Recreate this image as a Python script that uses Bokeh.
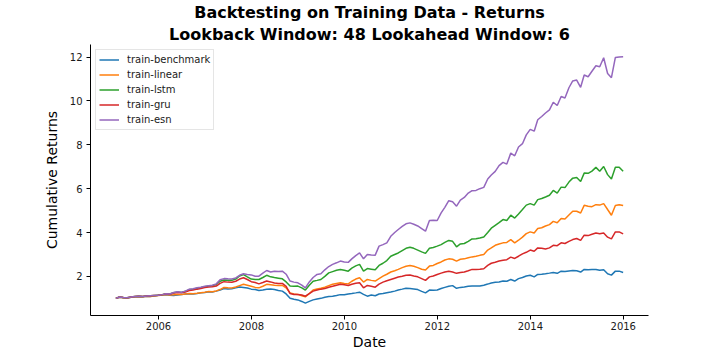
import pandas as pd
from bokeh.plotting import figure
from bokeh.models import (Range1d, FixedTicker, DatetimeTickFormatter, Legend,
                          LegendItem, Title)
from bokeh.embed import file_html
from bokeh.resources import INLINE

title_lines = ["Backtesting on Training Data - Returns",
               "Lookback Window: 48 Lookahead Window: 6"]
x_label = "Date"
y_label = "Cumulative Returns"
series_names = ["train-benchmark", "train-linear", "train-lstm", "train-gru", "train-esn"]
series_colors = ["#1f77b4", "#ff7f0e", "#2ca02c", "#d62728", "#9467bd"]
first_month_end = "2005-01-31"
x_tick_years = [2006, 2008, 2010, 2012, 2014, 2016]
y_ticks = [2, 4, 6, 8, 10, 12]

# monthly values, one row per year 2005..2015
benchmark = [
    1.00, 1.05, 1.03, 1.02, 1.05, 1.07, 1.08, 1.07, 1.10, 1.09, 1.12, 1.14,
    1.15, 1.16, 1.14, 1.13, 1.15, 1.17, 1.20, 1.21, 1.20, 1.22, 1.25, 1.27,
    1.30, 1.29, 1.33, 1.38, 1.45, 1.43, 1.44, 1.48, 1.52, 1.50, 1.47, 1.42,
    1.40, 1.36, 1.38, 1.41, 1.43, 1.40, 1.36, 1.33, 1.20, 1.00, 0.96, 0.93,
    0.86, 0.78, 0.86, 0.93, 0.97, 1.00, 1.05, 1.08, 1.10, 1.13, 1.17, 1.16,
    1.20, 1.22, 1.25, 1.28, 1.18, 1.10, 1.15, 1.12, 1.20, 1.22, 1.26, 1.29,
    1.33, 1.38, 1.42, 1.46, 1.45, 1.43, 1.40, 1.32, 1.25, 1.38, 1.37, 1.38,
    1.45, 1.50, 1.55, 1.58, 1.46, 1.50, 1.52, 1.55, 1.56, 1.56, 1.56, 1.60,
    1.65, 1.70, 1.73, 1.75, 1.79, 1.78, 1.86, 1.79, 1.90, 1.95, 2.02, 2.05,
    1.98, 2.09, 2.10, 2.12, 2.15, 2.18, 2.14, 2.24, 2.22, 2.25, 2.27, 2.26,
    2.20, 2.32, 2.30, 2.31, 2.32, 2.28, 2.30, 2.12, 2.06, 2.24, 2.24, 2.18,
]
linear = [
    1.00, 1.05, 1.03, 1.02, 1.05, 1.07, 1.08, 1.07, 1.10, 1.09, 1.11, 1.13,
    1.15, 1.17, 1.15, 1.16, 1.18, 1.17, 1.20, 1.22, 1.21, 1.23, 1.26, 1.28,
    1.31, 1.30, 1.34, 1.40, 1.50, 1.48, 1.47, 1.52, 1.58, 1.64, 1.60, 1.55,
    1.50, 1.48, 1.55, 1.64, 1.62, 1.60, 1.59, 1.59, 1.48, 1.25, 1.20, 1.18,
    1.12, 1.07, 1.22, 1.38, 1.43, 1.46, 1.51, 1.58, 1.64, 1.68, 1.71, 1.68,
    1.66, 1.78, 1.88, 1.94, 1.74, 1.86, 1.82, 1.79, 1.90, 2.01, 2.10, 2.20,
    2.26, 2.32, 2.40, 2.46, 2.50, 2.46, 2.40, 2.33, 2.29, 2.47, 2.50, 2.59,
    2.66, 2.75, 2.80, 2.78, 2.70, 2.78, 2.80, 2.85, 2.89, 2.92, 2.96, 3.00,
    3.20, 3.30, 3.42, 3.48, 3.53, 3.55, 3.68, 3.53, 3.65, 3.79, 3.95, 4.03,
    3.98, 4.18, 4.22, 4.30, 4.36, 4.51, 4.45, 4.64, 4.62, 4.80, 4.97, 4.97,
    4.89, 5.24, 5.20, 5.18, 5.27, 5.25, 5.32, 5.05, 4.79, 5.23, 5.27, 5.23,
]
lstm = [
    1.00, 1.06, 1.04, 1.03, 1.06, 1.08, 1.10, 1.09, 1.11, 1.12, 1.13, 1.14,
    1.17, 1.21, 1.20, 1.26, 1.29, 1.27, 1.32, 1.40, 1.42, 1.46, 1.49, 1.53,
    1.56, 1.58, 1.63, 1.78, 1.84, 1.83, 1.82, 1.88, 2.02, 2.08, 1.98, 1.88,
    1.86, 1.86, 1.95, 2.05, 1.98, 1.95, 1.92, 1.89, 1.75, 1.56, 1.55, 1.56,
    1.48, 1.38, 1.60, 1.78, 1.82, 1.86, 2.00, 2.16, 2.22, 2.28, 2.32, 2.28,
    2.24, 2.38, 2.48, 2.55, 2.24, 2.36, 2.33, 2.30, 2.50, 2.60, 2.72, 2.92,
    3.00, 3.07, 3.18, 3.28, 3.33, 3.28, 3.20, 3.12, 3.05, 3.28, 3.32, 3.38,
    3.45, 3.55, 3.64, 3.60, 3.35, 3.48, 3.50, 3.60, 3.71, 3.72, 3.75, 3.80,
    4.00, 4.20, 4.33, 4.45, 4.59, 4.55, 4.79, 4.66, 4.85, 5.05, 5.25, 5.32,
    5.25, 5.50, 5.55, 5.62, 5.70, 5.92, 5.80, 6.07, 6.05, 6.30, 6.48, 6.51,
    6.33, 6.71, 6.70, 6.80, 6.97, 6.79, 7.01, 6.64, 6.44, 6.98, 6.98, 6.79,
]
gru = [
    1.00, 1.06, 1.04, 1.03, 1.06, 1.08, 1.10, 1.09, 1.11, 1.12, 1.13, 1.14,
    1.17, 1.20, 1.19, 1.24, 1.27, 1.25, 1.29, 1.36, 1.38, 1.42, 1.45, 1.49,
    1.52, 1.53, 1.56, 1.68, 1.76, 1.74, 1.73, 1.78, 1.88, 1.94, 1.86, 1.76,
    1.72, 1.66, 1.72, 1.79, 1.75, 1.70, 1.68, 1.68, 1.55, 1.22, 1.18, 1.18,
    1.15, 1.10, 1.22, 1.33, 1.38, 1.42, 1.45, 1.51, 1.55, 1.60, 1.64, 1.62,
    1.59, 1.64, 1.69, 1.71, 1.48, 1.59, 1.55, 1.51, 1.65, 1.74, 1.80, 1.86,
    1.92, 1.97, 2.01, 2.05, 2.06, 2.02, 1.98, 1.90, 1.82, 1.98, 2.02, 2.09,
    2.15, 2.20, 2.24, 2.20, 2.14, 2.18, 2.20, 2.26, 2.32, 2.32, 2.33, 2.35,
    2.50, 2.60, 2.65, 2.70, 2.74, 2.76, 2.88, 2.82, 2.92, 3.03, 3.10, 3.20,
    3.15, 3.30, 3.28, 3.25, 3.30, 3.42, 3.40, 3.53, 3.50, 3.60, 3.68, 3.73,
    3.64, 3.88, 3.86, 3.92, 3.98, 3.95, 3.98, 3.79, 3.71, 4.03, 4.03, 3.94,
]
esn = [
    1.00, 1.06, 1.04, 1.03, 1.06, 1.08, 1.10, 1.09, 1.11, 1.12, 1.13, 1.14,
    1.17, 1.21, 1.20, 1.27, 1.30, 1.28, 1.33, 1.42, 1.44, 1.48, 1.51, 1.55,
    1.58, 1.60, 1.66, 1.85, 1.90, 1.89, 1.88, 1.93, 2.05, 2.12, 2.09, 2.07,
    2.01, 2.01, 2.15, 2.27, 2.20, 2.24, 2.22, 2.24, 2.10, 1.79, 1.74, 1.71,
    1.60, 1.48, 1.75, 1.95, 2.09, 2.12, 2.30, 2.45, 2.55, 2.62, 2.70, 2.66,
    2.64, 2.80, 2.95, 3.07, 2.80, 3.00, 2.98, 2.97, 3.38, 3.45, 3.53, 3.83,
    4.00, 4.14, 4.28, 4.40, 4.44, 4.38, 4.30, 4.18, 4.06, 4.55, 4.56, 4.55,
    4.90, 5.15, 5.45, 5.40, 5.20, 5.48, 5.60, 5.80, 5.91, 5.92, 6.00, 6.06,
    6.44, 6.62, 6.79, 7.05, 7.20, 7.12, 7.62, 7.50, 7.90, 8.05, 8.45, 8.70,
    8.62, 9.14, 9.29, 9.45, 9.59, 9.94, 9.79, 10.20, 10.13, 10.60, 10.91, 10.95,
    10.62, 11.18, 11.10, 11.35, 11.60, 11.56, 11.97, 11.25, 11.06, 11.98, 12.00, 12.01,
]
series_values = [benchmark, linear, lstm, gru, esn]

dates = pd.date_range(first_month_end, periods=len(benchmark), freq="ME")
x_ms = (dates.astype("int64") // 10**6).astype(float)
x_pad = (x_ms[-1] - x_ms[0]) * 0.05
all_vals = [v for s in series_values for v in s]
y_lo, y_hi = min(all_vals), max(all_vals)
y_pad = (y_hi - y_lo) * 0.05

FONT = "DejaVu Sans"

p = figure(width=704, height=352, x_axis_type="datetime",
           output_backend="svg", toolbar_location=None,
           x_range=Range1d(x_ms[0] - x_pad, x_ms[-1] + x_pad),
           y_range=Range1d(y_lo - y_pad, y_hi + y_pad),
           min_border_left=90, min_border_right=56,
           min_border_top=43, min_border_bottom=37)
p.title = None

# titles stacked outward from the frame: second line first
for text, standoff in ((title_lines[1], 2), (title_lines[0], 0)):
    t = Title(text=text, align="center", text_font=FONT, text_font_size="16px",
              text_font_style="bold", text_color="black", standoff=standoff)
    p.add_layout(t, "above")

p.outline_line_color = None
p.xgrid.visible = False
p.ygrid.visible = False

tick_ms = [pd.Timestamp(f"{y}-01-01").value / 1e6 for y in x_tick_years]
p.xaxis.ticker = FixedTicker(ticks=tick_ms)
p.xaxis.formatter = DatetimeTickFormatter(
    years="%Y", months="%Y", days="%Y", hours="%Y", hourmin="%Y",
    minutes="%Y", minsec="%Y", seconds="%Y", milliseconds="%Y", microseconds="%Y")
p.yaxis.ticker = FixedTicker(ticks=y_ticks)
p.xaxis.axis_label = x_label
p.yaxis.axis_label = y_label

for ax in (p.xaxis[0], p.yaxis[0]):
    ax.axis_line_color = "black"
    ax.axis_line_width = 1
    ax.major_tick_line_color = "black"
    ax.minor_tick_line_color = None
    ax.major_tick_in = 0
    ax.major_tick_out = 4
    ax.major_label_text_font = FONT
    ax.major_label_text_font_size = "10px"
    ax.major_label_text_color = "#1a1a1a"
    ax.axis_label_text_font = FONT
    ax.axis_label_text_font_size = "14px"
    ax.axis_label_text_font_style = "normal"
    ax.axis_label_text_color = "black"
p.xaxis.major_label_standoff = 2
p.xaxis.axis_label_standoff = 1
p.yaxis.major_label_standoff = 4
p.yaxis.axis_label_standoff = 7

items = []
for name, vals, col in zip(series_names, series_values, series_colors):
    r = p.line(x=x_ms, y=vals, line_color=col, line_width=1.5)
    items.append(LegendItem(label=name, renderers=[r]))

legend = Legend(items=items, location="top_left")
legend.label_text_font = FONT
legend.label_text_font_size = "10px"
legend.label_text_color = "#1a1a1a"
legend.glyph_width = 20
legend.glyph_height = 13
legend.label_height = 13
legend.spacing = 2
legend.padding = 3
legend.margin = 5
legend.label_standoff = 8
legend.border_line_color = "#cccccc"
legend.border_line_width = 1
legend.background_fill_alpha = 0.8
p.add_layout(legend)

open("out.html", "w").write(file_html(p, INLINE))
